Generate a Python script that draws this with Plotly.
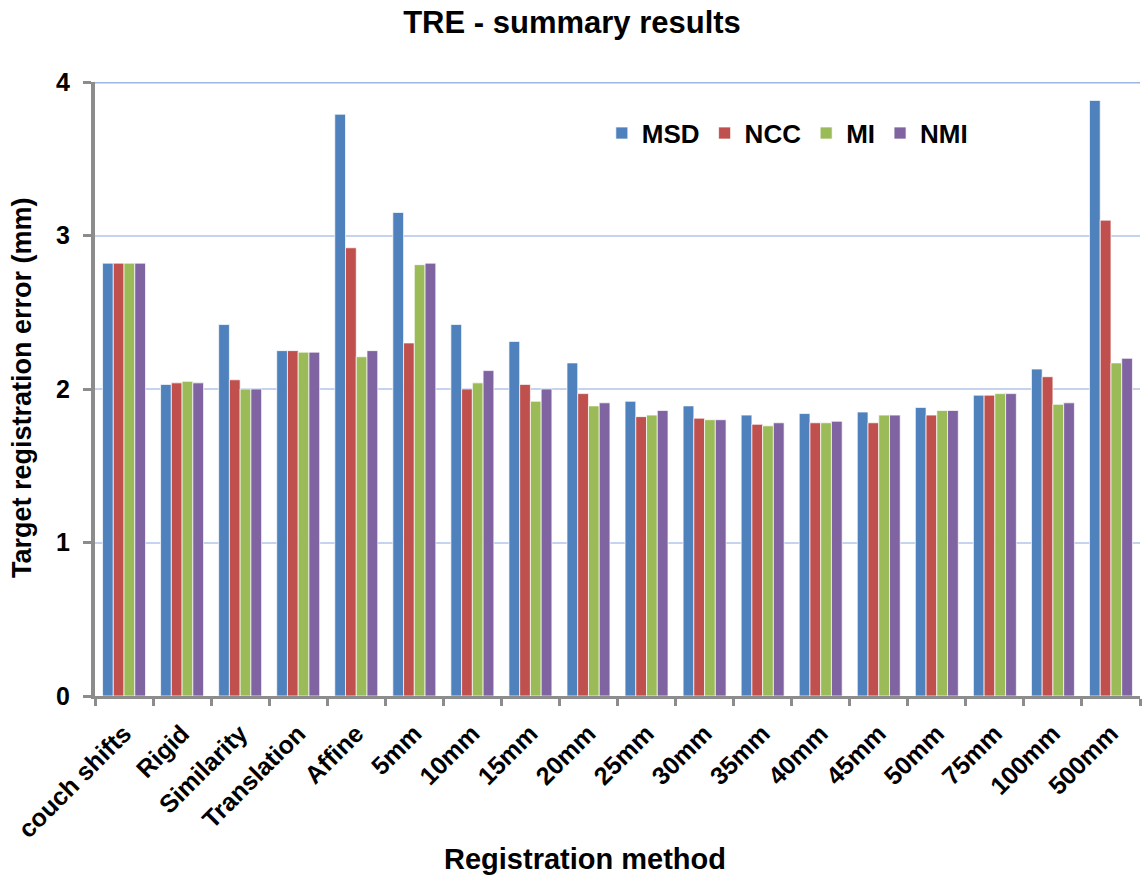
import plotly.graph_objects as go

categories = ["couch shifts", "Rigid", "Similarity", "Translation", "Affine",
              "5mm", "10mm", "15mm", "20mm", "25mm", "30mm", "35mm", "40mm",
              "45mm", "50mm", "75mm", "100mm", "500mm"]

msd = [2.82, 2.03, 2.42, 2.25, 3.79, 3.15, 2.42, 2.31, 2.17, 1.92, 1.89, 1.83,
       1.84, 1.85, 1.88, 1.96, 2.13, 3.88]
ncc = [2.82, 2.04, 2.06, 2.25, 2.92, 2.30, 2.00, 2.03, 1.97, 1.82, 1.81, 1.77,
       1.78, 1.78, 1.83, 1.96, 2.08, 3.10]
mi = [2.82, 2.05, 2.00, 2.24, 2.21, 2.81, 2.04, 1.92, 1.89, 1.83, 1.80, 1.76,
      1.78, 1.83, 1.86, 1.97, 1.90, 2.17]
nmi = [2.82, 2.04, 2.00, 2.24, 2.25, 2.82, 2.12, 2.00, 1.91, 1.86, 1.80, 1.78,
       1.79, 1.83, 1.86, 1.97, 1.91, 2.20]

series = [("MSD", msd, "#4F81BD"), ("NCC", ncc, "#C0504D"),
          ("MI", mi, "#9BBB59"), ("NMI", nmi, "#8064A2")]

FONT = "Liberation Sans, Arial, sans-serif"

fig = go.Figure()
for name, vals, color in series:
    fig.add_trace(go.Bar(
        x=categories, y=vals, name=f"<b>{name}</b>",
        marker=dict(color=color, line=dict(color="rgba(255,255,255,0.7)", width=1)),
    ))

fig.update_layout(
    width=1144, height=876,
    margin=dict(l=95, r=4, t=82, b=180),
    paper_bgcolor="white", plot_bgcolor="white",
    barmode="group", bargap=0.26, bargroupgap=0,
    font=dict(family=FONT, color="black"),
    title=dict(text="<b>TRE - summary results</b>", x=0.5, xanchor="center",
               y=0.975, yanchor="middle", font=dict(size=31, family=FONT)),
    legend=dict(orientation="h", x=0.485, xanchor="left", y=0.955, yanchor="top",
                font=dict(size=26, family=FONT), itemwidth=30,
                bgcolor="rgba(0,0,0,0)", traceorder="normal"),
    xaxis=dict(
        tickangle=-45, tickfont=dict(size=25, family=FONT),
        tickprefix="<b>", ticksuffix="</b>",
        showline=True, linecolor="#8C8C8C", linewidth=3,
        ticks="outside", tickson="boundaries", ticklen=7, tickwidth=3,
        tickcolor="#8C8C8C", showgrid=False, ticklabelstandoff=10,
    ),
    yaxis=dict(
        range=[0, 4], dtick=1, tickfont=dict(size=25, family=FONT),
        tickprefix="<b>", ticksuffix="</b>",
        showline=True, linecolor="#8C8C8C", linewidth=4,
        ticks="outside", ticklen=8, tickwidth=3, tickcolor="#8C8C8C",
        ticklabelstandoff=8,
        showgrid=True, gridcolor="#C5D3EE", gridwidth=2,
        zeroline=False,
    ),
    annotations=[
        dict(text="<b>Registration method</b>", xref="paper", yref="paper",
             x=0.469, y=-0.265, xanchor="center", yanchor="middle",
             showarrow=False, font=dict(size=29, family=FONT)),
        dict(text="<b>Target registration error (mm)</b>", xref="paper", yref="paper",
             x=-0.07, y=0.503, xanchor="center", yanchor="middle", textangle=-90,
             showarrow=False, font=dict(size=27, family=FONT)),
    ],
)

# top boundary line at the axis maximum
fig.add_shape(type="line", xref="paper", yref="y", x0=0, x1=1, y0=4, y1=4,
              line=dict(color="#9BB7E2", width=3), layer="below")

fig.write_html("out.html")
